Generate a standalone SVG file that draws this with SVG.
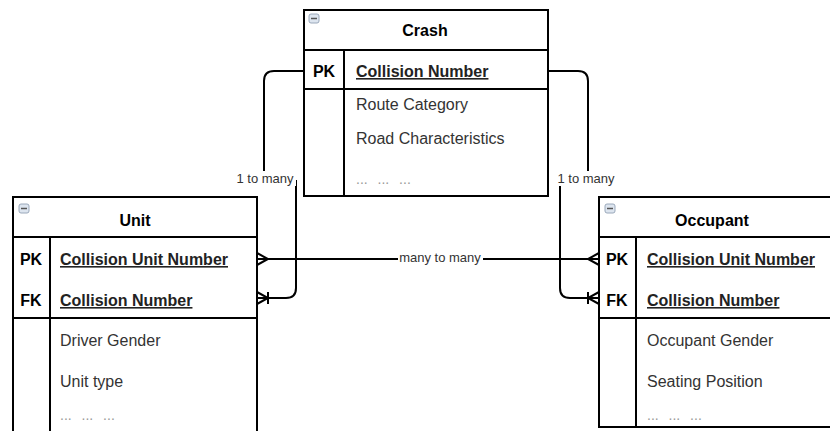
<svg xmlns="http://www.w3.org/2000/svg" width="830" height="431" viewBox="0 0 830 431">
<style>
.box{fill:#fff;stroke:#000;stroke-width:2}
.ln{stroke:#000;stroke-width:2;fill:none}
.title{font-family:"Liberation Sans",Arial,sans-serif;font-size:16px;font-weight:bold;fill:#000;text-anchor:middle}
.key{font-family:"Liberation Sans",Arial,sans-serif;font-size:16px;font-weight:bold;fill:#000;text-anchor:middle}
.pk{font-family:"Liberation Sans",Arial,sans-serif;font-size:16px;font-weight:bold;fill:#222;text-decoration:underline}
.attr{font-family:"Liberation Sans",Arial,sans-serif;font-size:16px;fill:#333}
.dots{font-family:"Liberation Sans",Arial,sans-serif;font-size:14px;fill:#999;word-spacing:6px}
.lbl{font-family:"Liberation Sans",Arial,sans-serif;font-size:13px;fill:#333;text-anchor:middle}
.icon{fill:#dde5ef;stroke:#9aa8ba;stroke-width:1}
.iconm{stroke:#555;stroke-width:1.5}
.edge{stroke:#000;stroke-width:2;fill:none}
</style>
<defs>
<marker id="many" markerUnits="userSpaceOnUse" markerWidth="30" markerHeight="30" refX="0" refY="0" orient="auto-start-reverse" overflow="visible" viewBox="-15 -15 30 30">
<path d="M0,-6 L-11,0 L0,6" fill="none" stroke="#000" stroke-width="2"/>
</marker>
<marker id="oneMany" markerUnits="userSpaceOnUse" markerWidth="30" markerHeight="30" refX="0" refY="0" orient="auto-start-reverse" overflow="visible" viewBox="-15 -15 30 30">
<path d="M0,-6 L-11,0 L0,6 M-11,-6 V6" fill="none" stroke="#000" stroke-width="2"/>
</marker>
</defs>

<g id="connectors">
<path class="edge" d="M304,71 H274 Q264,71 264,81 V181 H296 V288 Q296,298 286,298 H257" marker-end="url(#oneMany)"/>
<path class="edge" d="M548,71 H578 Q588,71 588,81 V181 H560 V288 Q560,298 570,298 H599" marker-end="url(#oneMany)"/>
<path class="edge" d="M257,259 H599" marker-start="url(#many)" marker-end="url(#many)"/>
<rect x="234" y="171" width="62" height="15" fill="#fff"/>
<text class="lbl" x="265" y="183">1 to many</text>
<rect x="555" y="171" width="62" height="15" fill="#fff"/>
<text class="lbl" x="586" y="183">1 to many</text>
<rect x="398" y="250" width="85" height="15" fill="#fff"/>
<text class="lbl" x="440" y="262">many to many</text>
</g>

<g id="crash">
<rect class="box" x="304" y="10" width="244" height="186"/>
<line class="ln" x1="304" y1="50" x2="548" y2="50"/>
<line class="ln" x1="304" y1="89" x2="548" y2="89"/>
<line class="ln" x1="344" y1="50" x2="344" y2="196"/>
<rect class="icon" x="309" y="14" width="10" height="9" rx="2"/>
<line class="iconm" x1="311" y1="18.5" x2="317" y2="18.5"/>
<text class="title" x="425" y="36">Crash</text>
<text class="key" x="324" y="77">PK</text>
<text class="pk" x="356" y="77">Collision Number</text>
<text class="attr" x="356" y="110">Route Category</text>
<text class="attr" x="356" y="144">Road Characteristics</text>
<text class="dots" x="356" y="184">... ... ...</text>
</g>

<g id="unit">
<rect class="box" x="13" y="197" width="244" height="250"/>
<line class="ln" x1="13" y1="237" x2="257" y2="237"/>
<line class="ln" x1="13" y1="318" x2="257" y2="318"/>
<line class="ln" x1="50" y1="237" x2="50" y2="447"/>
<rect class="icon" x="19" y="204" width="10" height="9" rx="2"/>
<line class="iconm" x1="21" y1="208.5" x2="27" y2="208.5"/>
<text class="title" x="135" y="226">Unit</text>
<text class="key" x="31" y="265">PK</text>
<text class="pk" x="60" y="265">Collision Unit Number</text>
<text class="key" x="31" y="306">FK</text>
<text class="pk" x="60" y="306">Collision Number</text>
<text class="attr" x="60" y="346">Driver Gender</text>
<text class="attr" x="60" y="387">Unit type</text>
<text class="dots" x="60" y="420">... ... ...</text>
</g>

<g id="occupant">
<rect class="box" x="599" y="197" width="250" height="230"/>
<line class="ln" x1="599" y1="237" x2="849" y2="237"/>
<line class="ln" x1="599" y1="318" x2="849" y2="318"/>
<line class="ln" x1="636" y1="237" x2="636" y2="427"/>
<rect class="icon" x="605" y="204" width="10" height="9" rx="2"/>
<line class="iconm" x1="607" y1="208.5" x2="613" y2="208.5"/>
<text class="title" x="712" y="226">Occupant</text>
<text class="key" x="617" y="265">PK</text>
<text class="pk" x="647" y="265">Collision Unit Number</text>
<text class="key" x="617" y="306">FK</text>
<text class="pk" x="647" y="306">Collision Number</text>
<text class="attr" x="647" y="346">Occupant Gender</text>
<text class="attr" x="647" y="387">Seating Position</text>
<text class="dots" x="647" y="420">... ... ...</text>
</g>
</svg>
